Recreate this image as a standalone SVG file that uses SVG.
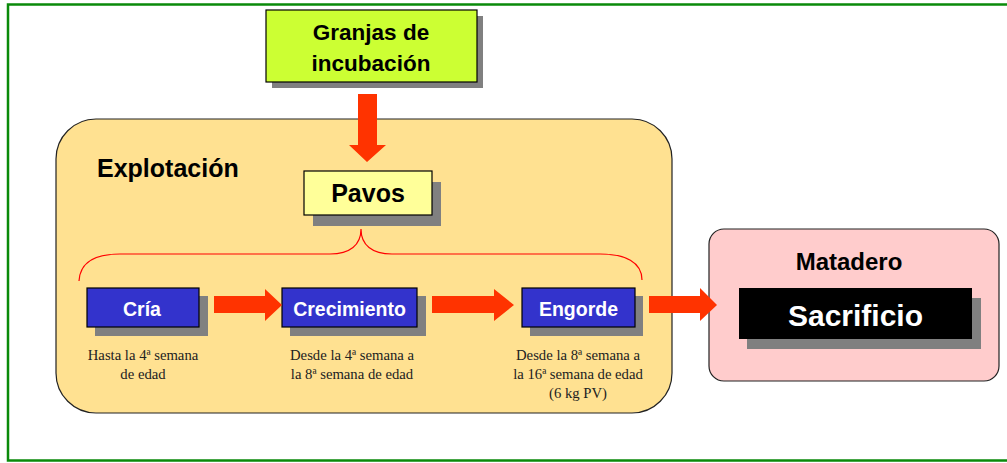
<svg xmlns="http://www.w3.org/2000/svg" width="1007" height="463" viewBox="0 0 1007 463">
<style>
.t{font-family:"Liberation Sans",Arial,sans-serif;font-weight:bold;text-anchor:middle}
.d{font-family:"Liberation Serif","Times New Roman",serif;font-size:14.7px;fill:#222;text-anchor:middle}
.sh{fill:#808080}
.bx{stroke:#000;stroke-width:1.2}
.ar{fill:#ff3300}
</style>
<rect x="0" y="0" width="1007" height="463" fill="#fff"/>
<rect x="8" y="4.5" width="1010" height="456" fill="none" stroke="#0a8a0a" stroke-width="2.5"/>

<g id="explotacion">
<rect x="56" y="119" width="616" height="294" rx="40" ry="40" fill="#ffe191" stroke="#222" stroke-width="1.2"/>
<text class="t" x="97" y="177" font-size="25" style="text-anchor:start">Explotación</text>
</g>

<g id="matadero">
<rect x="709" y="229" width="290" height="152" rx="15" ry="15" fill="#ffcccc" stroke="#222" stroke-width="1.2"/>
<text class="t" x="849" y="270" font-size="24">Matadero</text>
</g>

<g id="granjas">
<rect class="sh" x="272" y="16" width="211" height="72"/>
<rect class="bx" x="266" y="10" width="211" height="72" fill="#ccff33"/>
<text class="t" x="371" y="40" font-size="22.5">Granjas de</text>
<text class="t" x="371" y="71" font-size="22.5">incubación</text>
</g>

<g id="pavos">
<rect class="sh" x="313" y="182" width="128" height="44"/>
<rect class="bx" x="304" y="171" width="128" height="44" fill="#ffff99"/>
<text class="t" x="368" y="202" font-size="25">Pavos</text>
</g>

<g id="cria">
<rect class="sh" x="95" y="296" width="113" height="40"/>
<rect class="bx" x="87" y="288" width="112" height="39" fill="#3333cc"/>
<text class="t" x="142" y="316" font-size="19.5" fill="#fff">Cría</text>
<text class="d" x="143" y="360">Hasta la 4ª semana</text>
<text class="d" x="143" y="379">de edad</text>
</g>

<g id="crecimiento">
<rect class="sh" x="290" y="296" width="136" height="40"/>
<rect class="bx" x="282" y="288" width="135" height="39" fill="#3333cc"/>
<text class="t" x="349.500" y="316" font-size="19.5" fill="#fff">Crecimiento</text>
<text class="d" x="352" y="360">Desde la 4ª semana a</text>
<text class="d" x="352" y="379">la 8ª semana de edad</text>
</g>

<g id="engorde">
<rect class="sh" x="530" y="296" width="113" height="40"/>
<rect class="bx" x="522" y="288" width="113" height="39" fill="#3333cc"/>
<text class="t" x="578.500" y="316" font-size="19.5" fill="#fff">Engorde</text>
<text class="d" x="578" y="360">Desde la 8ª semana a</text>
<text class="d" x="578" y="379">la 16ª semana de edad</text>
<text class="d" x="578" y="398">(6 kg PV)</text>
</g>

<g id="sacrificio">
<rect class="sh" x="747" y="298" width="234" height="51"/>
<rect x="739" y="288" width="233" height="51" fill="#000"/>
<text class="t" x="855.500" y="326" font-size="30" fill="#fff">Sacrificio</text>
</g>

<g id="connectors">
<path class="ar" d="M358,94 H377 V145 H386 L367,162 L349,145 H358 Z"/>
<path class="ar" d="M214,296 H265 V289 L282,305 L265,321 V313 H214 Z"/>
<path class="ar" d="M432,296 H494 V289 L514,305 L494,321 V313 H432 Z"/>
<path class="ar" d="M649,296 H700 V288 L717,305 L700,321 V313 H649 Z"/>
<path d="M79,281 C80,262 95,254 120,254 H330 C350,254 361,245 361,229 C361,245 372,254 392,254 H600 C625,254 642,262 642,280" fill="none" stroke="#ff0000" stroke-width="1.2"/>
</g>
</svg>
